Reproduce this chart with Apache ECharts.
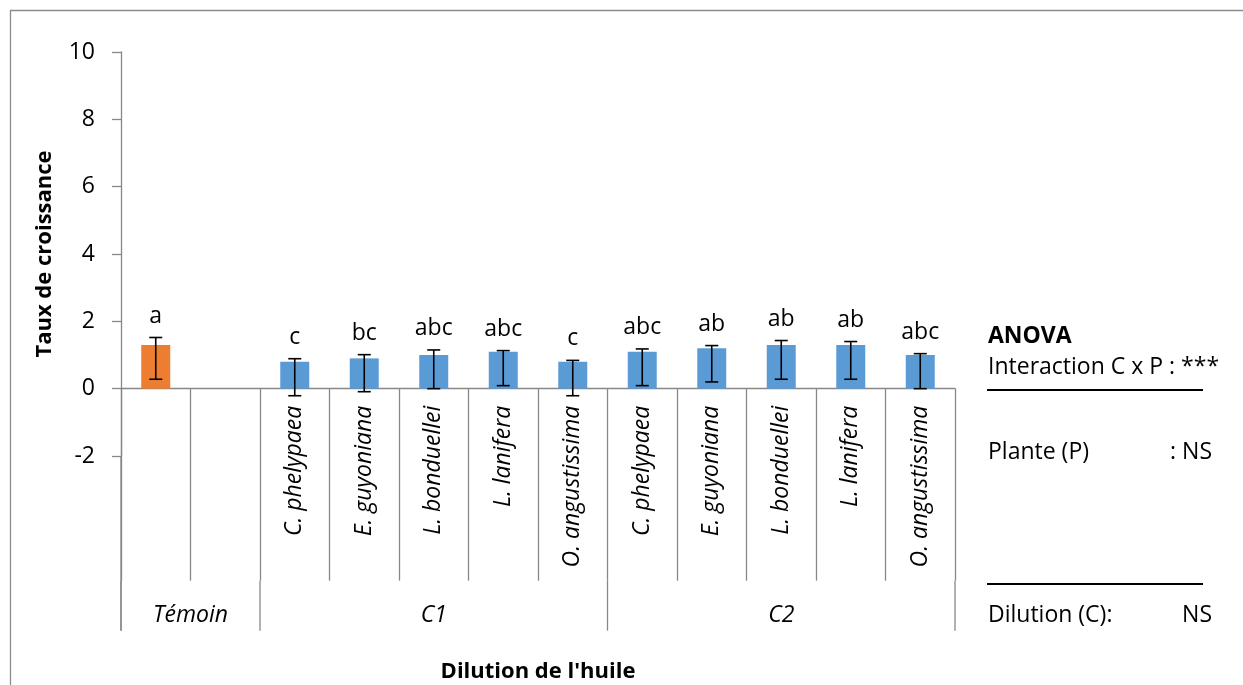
<!DOCTYPE html>
<html>
<head>
<meta charset="utf-8">
<script src="https://cdn.jsdelivr.net/npm/echarts@6/dist/echarts.min.js"></script>
<style>
  html, body { margin: 0; padding: 0; background: #fff; }
  #chart { width: 1243px; height: 685px; }
</style>
</head>
<body>
<div id="chart"></div>
<script>
// Growth rate per oil dilution and plant species
const categories = ['', '', 'C. phelypaea', 'E. guyoniana', 'L. bonduellei', 'L. lanifera', 'O. angustissima',
                    'C. phelypaea', 'E. guyoniana', 'L. bonduellei', 'L. lanifera', 'O. angustissima'];
const growth  = [1.3, null, 0.8, 0.9, 1.0, 1.1, 0.8, 1.1, 1.2, 1.3, 1.3, 1.0];
const errLow  = [0.28, null, -0.21, -0.09, 0.0, 0.09, -0.21, 0.09, 0.2, 0.28, 0.28, 0.0];
const errHigh = [1.52, null, 0.89, 1.01, 1.15, 1.13, 0.84, 1.18, 1.28, 1.43, 1.40, 1.04];
const letters = ['a', '', 'c', 'bc', 'abc', 'abc', 'c', 'abc', 'ab', 'ab', 'ab', 'abc'];
const isControl = [true, false, false, false, false, false, false, false, false, false, false, false];
const groupNames = ['Témoin', 'C1', 'C2'];
const groupBounds = [0, 2, 7, 12];
const yTicks = { min: -2, max: 10, step: 2 };

const FONT = 'Open Sans';
const AXIS_GREY = '#878787';

const chart = echarts.init(document.getElementById('chart'));

const barData = growth.map((v, i) => v == null ? null : {
  value: v,
  itemStyle: { color: isControl[i] ? '#ED7D31' : '#5B9BD5' }
});
const errData = growth.map((v, i) => v == null ? null : [i, errLow[i], errHigh[i]]);

chart.setOption({
  animation: false,
  textStyle: { fontFamily: FONT },
  grid: { left: 121, right: 288, top: 52, bottom: 229, containLabel: false },
  xAxis: {
    type: 'category',
    data: categories,
    axisLine: { onZero: true, lineStyle: { color: AXIS_GREY, width: 1.3 } },
    axisTick: { show: true, interval: 0, length: 192, alignWithLabel: false,
                lineStyle: { color: AXIS_GREY, width: 1.3 } },
    // species names are laid out below with the group labels
    axisLabel: { show: false },
    splitLine: { show: false }
  },
  yAxis: {
    type: 'value',
    min: yTicks.min, max: yTicks.max, interval: yTicks.step,
    name: 'Taux de croissance',
    nameLocation: 'middle',
    nameGap: 65,
    nameTextStyle: { fontWeight: 'bold', fontSize: 22, color: '#000', fontFamily: FONT },
    axisLine: { show: true, lineStyle: { color: AXIS_GREY, width: 1.3 } },
    axisTick: { show: true, length: 9, lineStyle: { color: AXIS_GREY, width: 1.3 } },
    axisLabel: { margin: 26, fontSize: 23, color: '#000', fontFamily: FONT },
    splitLine: { show: false }
  },
  series: [
    {
      type: 'bar',
      data: barData,
      barWidth: 29,
      z: 2
    },
    {
      type: 'custom',
      data: errData,
      z: 3,
      renderItem: function (params, api) {
        const i = api.value(0);
        const top = api.coord([i, api.value(2)]);
        const bot = api.coord([i, api.value(1)]);
        const half = 6.5;
        const style = { stroke: '#000', lineWidth: 1.6 };
        return {
          type: 'group',
          children: [
            { type: 'line', shape: { x1: top[0], y1: top[1], x2: bot[0], y2: bot[1] }, style },
            { type: 'line', shape: { x1: top[0] - half, y1: top[1], x2: top[0] + half, y2: top[1] }, style },
            { type: 'line', shape: { x1: bot[0] - half, y1: bot[1], x2: bot[0] + half, y2: bot[1] }, style },
            { type: 'text', style: { text: letters[i], x: top[0], y: top[1] - 10,
                align: 'center', verticalAlign: 'bottom',
                font: '23px "' + FONT + '"', fill: '#000' } }
          ]
        };
      }
    }
  ]
});

// Frame, category labels and the ANOVA summary
function drawOverlay() {
  const px = i => chart.convertToPixel({ xAxisIndex: 0 }, i);
  const band = px(1) - px(0);
  const boundary = b => px(0) - band / 2 + b * band;
  const yZero = chart.convertToPixel({ yAxisIndex: 0 }, 0);
  const yMin = chart.convertToPixel({ yAxisIndex: 0 }, yTicks.min);
  const sepTop = yZero + 192;
  const sepBottom = sepTop + 50;
  const lineStyle = { stroke: AXIS_GREY, lineWidth: 1.3 };
  const elements = [];

  elements.push({ type: 'rect', silent: true, z: 0,
    shape: { x: 10.5, y: 10.5, width: 1400, height: 900 },
    style: { fill: null, stroke: '#8c8c8c', lineWidth: 1.3 } });

  // y axis line carried down through the category label area
  elements.push({ type: 'line', shape: { x1: boundary(0), y1: yMin, x2: boundary(0), y2: sepBottom }, style: lineStyle });

  // species names, vertical, ending just under the zero line
  categories.forEach((name, i) => {
    if (!name) return;
    elements.push({ type: 'text', x: px(i), y: yZero + 17, rotation: Math.PI / 2,
      style: { text: name, align: 'right', verticalAlign: 'middle',
               font: 'italic 23px "' + FONT + '"', fill: '#000' } });
  });

  groupBounds.forEach(b => {
    elements.push({ type: 'line', shape: { x1: boundary(b), y1: sepTop, x2: boundary(b), y2: sepBottom }, style: lineStyle });
  });
  groupNames.forEach((name, g) => {
    const cx = (boundary(groupBounds[g]) + boundary(groupBounds[g + 1])) / 2;
    elements.push({ type: 'text', style: { text: name, x: cx, y: 615, align: 'center', verticalAlign: 'middle',
      font: 'italic 23px "' + FONT + '"', fill: '#000' } });
  });

  const plotMid = (boundary(0) + boundary(categories.length)) / 2;
  elements.push({ type: 'text', style: { text: "Dilution de l'huile", x: plotMid, y: 672,
    align: 'center', verticalAlign: 'middle', font: 'bold 22px "' + FONT + '"', fill: '#000' } });

  const txt = (t, x, y, opts) => Object.assign({ type: 'text', style: Object.assign({
    text: t, x, y, align: 'left', verticalAlign: 'middle', font: '23px "' + FONT + '"', fill: '#000' }, opts || {}) });
  elements.push(txt('ANOVA', 988, 336, { font: 'bold 23px "' + FONT + '"' }));
  elements.push(txt('Interaction C x P : ***', 988, 367));
  elements.push({ type: 'line', shape: { x1: 987, y1: 390, x2: 1203, y2: 390 }, style: { stroke: '#000', lineWidth: 2 } });
  elements.push(txt('Plante (P)', 988, 452));
  elements.push(txt(': NS', 1212, 452, { align: 'right' }));
  elements.push({ type: 'line', shape: { x1: 987, y1: 584, x2: 1203, y2: 584 }, style: { stroke: '#000', lineWidth: 2 } });
  elements.push(txt('Dilution (C):', 988, 615));
  elements.push(txt('NS', 1212, 615, { align: 'right' }));

  chart.setOption({ graphic: { elements } });
}
drawOverlay();
</script>
</body>
</html>
